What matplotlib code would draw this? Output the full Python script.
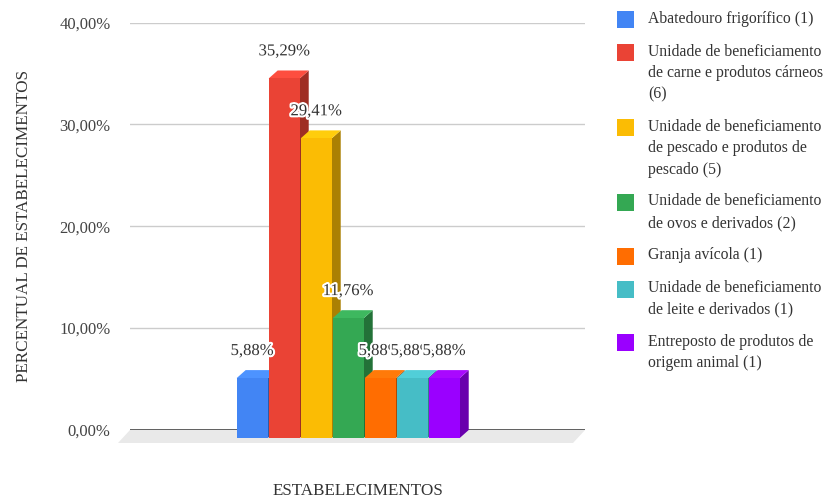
import numpy as np
import matplotlib
matplotlib.use("Agg")
import matplotlib.pyplot as plt
from matplotlib.patches import Polygon, Rectangle
from matplotlib import patheffects
from matplotlib.colors import to_rgb

categories = [
    "Abatedouro frigorífico (1)",
    "Unidade de beneficiamento\nde carne e produtos cárneos\n(6)",
    "Unidade de beneficiamento\nde pescado e produtos de\npescado (5)",
    "Unidade de beneficiamento\nde ovos e derivados (2)",
    "Granja avícola (1)",
    "Unidade de beneficiamento\nde leite e derivados (1)",
    "Entreposto de produtos de\norigem animal (1)",
]
values = [5.88, 35.29, 29.41, 11.76, 5.88, 5.88, 5.88]
value_labels = ["5,88%", "35,29%", "29,41%", "11,76%", "5,88%", "5,88%", "5,88%"]
colors = ["#4285F4", "#EA4335", "#FBBC04", "#34A853", "#FF6D01", "#46BDC6", "#9A00FF"]
yticks = [0, 10, 20, 30, 40]
ytick_labels = ["0,00%", "10,00%", "20,00%", "30,00%", "40,00%"]

plt.rcParams['font.family'] = ['Liberation Serif', 'DejaVu Serif']

W, H = 829, 498
fig = plt.figure(figsize=(W / 100, H / 100), dpi=100)
ax_l, ax_r, ax_t, ax_b = 130, 585, 22.5, 430
ax = fig.add_axes([ax_l / W, 1 - ax_b / H, (ax_r - ax_l) / W, (ax_b - ax_t) / H])

xmin = -4.1
xmax = xmin + (ax_r - ax_l) / 32.0
ax.set_xlim(xmin, xmax)
ax.set_ylim(0, 40)

# pixel -> data conversion for the fake 3D depth
px_x = (xmax - xmin) / (ax_r - ax_l)
px_y = 40.0 / (ax_b - ax_t)
ddx, ddy = 9 * px_x, 8 * px_y
fdx, fdy = 12 * px_x, 13 * px_y

# floor
floor = Polygon([(xmin, 0), (xmax, 0), (xmax - fdx, -fdy), (xmin - fdx, -fdy)],
                closed=True, facecolor="#e9e9e9", edgecolor="none", clip_on=False, zorder=0)
ax.add_patch(floor)

for t in yticks[1:]:
    ax.axhline(t, color="#cccccc", lw=1, zorder=1)
ax.axhline(0, color="#444444", lw=1.2, zorder=1)

width = 0.97
x = np.arange(len(values))
for i, (xi, v, c) in enumerate(zip(x, values, colors)):
    rgb = np.array(to_rgb(c))
    dark = rgb * 0.68
    light = np.minimum(rgb * 1.05 + 0.03, 1)
    xl, xr = xi - width / 2, xi + width / 2
    side = Polygon([(xr - ddx, -ddy), (xr, 0), (xr, v), (xr - ddx, v - ddy)],
                   closed=True, facecolor=dark, edgecolor="none", zorder=2 + 2 * i, clip_on=False)
    top = Polygon([(xl - ddx, v - ddy), (xl, v), (xr, v), (xr - ddx, v - ddy)],
                  closed=True, facecolor=light, edgecolor="none", zorder=2 + 2 * i, clip_on=False)
    front = Rectangle((xl - ddx, -ddy), width, v, facecolor=c, edgecolor="none",
                      zorder=3 + 2 * i, clip_on=False)
    ax.add_patch(side)
    ax.add_patch(top)
    ax.add_patch(front)

for xi, v, lab in zip(x, values, value_labels):
    ax.annotate(lab, (xi - ddx, v), xytext=(0, 8), textcoords="offset points",
                ha="center", va="bottom", fontsize=12, color="#333333", zorder=100,
                path_effects=[patheffects.withStroke(linewidth=3, foreground="white")])

ax.set_yticks(yticks)
ax.set_yticklabels(ytick_labels, fontsize=12, color="#444444")
ax.tick_params(axis="y", length=0, pad=14)
ax.set_xticks([])
for s in ax.spines.values():
    s.set_visible(False)

ax.set_ylabel("PERCENTUAL DE ESTABELECIMENTOS", fontsize=12.3, color="#333333", labelpad=20)
ax.set_xlabel("ESTABELECIMENTOS", fontsize=12.3, color="#333333", labelpad=38)

# legend drawn by hand so squares line up with the first text line
y = 20.0
line_h, gap = 21.0, 11.8
for lab, c in zip(categories, colors):
    n = lab.count("\n") + 1
    fig.patches.append(Rectangle((617 / W, 1 - (y + 8.5) / H), 17 / W, 17 / H,
                                 transform=fig.transFigure, facecolor=c, edgecolor="none"))
    fig.text(648 / W, 1 - (y - 9) / H, lab, ha="left", va="top", fontsize=11.3,
             color="#333333", linespacing=1.46)
    y += n * line_h + gap

fig.savefig("out.png", dpi=100)
